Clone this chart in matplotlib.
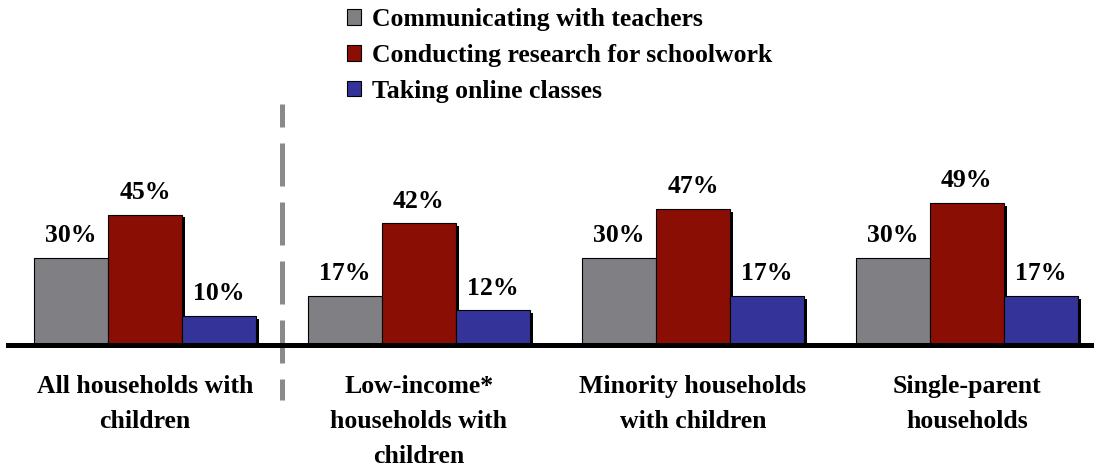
import numpy as np
import matplotlib
matplotlib.use('Agg')
import matplotlib.pyplot as plt
import matplotlib.patheffects as pe

plt.rcParams['font.family'] = ['Liberation Serif', 'DejaVu Serif']
plt.rcParams['font.weight'] = 'bold'

# data
groups = ['All households with\nchildren',
          'Low-income*\nhouseholds with\nchildren',
          'Minority households\nwith children',
          'Single-parent\nhouseholds']
series = ['Communicating with teachers',
          'Conducting research for schoolwork',
          'Taking online classes']
teachers = [30, 17, 30, 30]
research = [45, 42, 47, 49]
online = [10, 12, 17, 17]
colors = ['#808084', '#8b0e04', '#333399']

fig = plt.figure(figsize=(10.94, 4.68), dpi=100)
ax = fig.add_axes([0, 0, 1, 1])
ax.set_xlim(-0.529, 3.464)
ax.set_ylim(-42.4, 119.0)
ax.axis('off')

x = np.arange(len(groups))
w = 0.27
shadow = [pe.SimplePatchShadow(offset=(2.0, -2.0), shadow_rgbFace='black', alpha=1.0), pe.Normal()]
handles = []
for k, (vals, c, name) in enumerate(zip([teachers, research, online], colors, series)):
    xs = x + (k - 1) * w
    b = ax.bar(xs, vals, width=w, color=c, edgecolor='black', linewidth=0.8,
               label=name, zorder=2)
    for p in b:
        p.set_path_effects(shadow)
    handles.append(b)
    for xi, v in zip(xs, vals):
        ax.text(xi, v + 3.7, '%d%%' % v, ha='center', va='bottom',
                fontsize=18.5, fontweight='bold', zorder=4)

# baseline
ax.axhline(0, xmin=8 / 1094, xmax=1, color='black', lw=3.6, zorder=3)

# dashed separator
ax.plot([0.5, 0.5], [83.1, -19], color='#8a8a8a', lw=3.6,
        linestyle=(4, (8.6, 3.2)), solid_capstyle='butt', dash_capstyle='butt', zorder=1)

for xi, g in zip(x, groups):
    ax.text(xi, -10.4, g, ha='center', va='top', fontsize=18.5,
            fontweight='bold', linespacing=1.65)

leg = fig.legend(handles=handles, labels=series, loc='upper left',
                 bbox_to_anchor=(347 / 1094, 1 - 8 / 468), frameon=False,
                 fontsize=18.5, handlelength=0.56, handleheight=0.56,
                 handletextpad=0.4, labelspacing=0.5, borderpad=0,
                 borderaxespad=0)
for h in leg.legend_handles:
    h.set_path_effects([])
    h.set_edgecolor('black')
    h.set_linewidth(0.8)
for t in leg.get_texts():
    t.set_fontweight('bold')

fig.savefig('out.png', dpi=100)
